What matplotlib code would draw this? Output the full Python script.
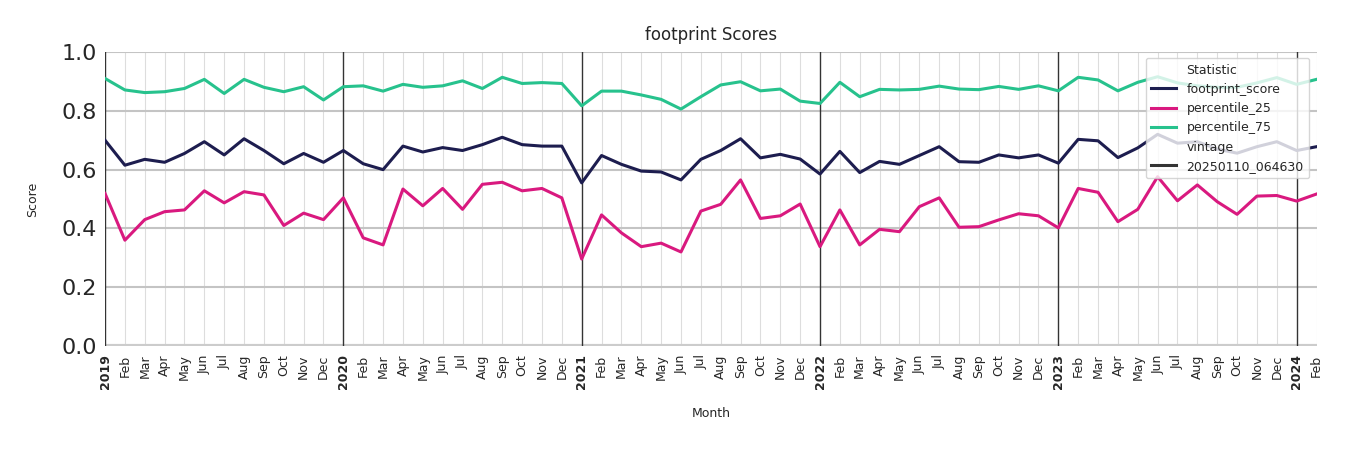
import matplotlib
matplotlib.use("Agg")
import matplotlib.pyplot as plt
from matplotlib.lines import Line2D
import numpy as np

months = ["Jan", "Feb", "Mar", "Apr", "May", "Jun", "Jul", "Aug", "Sep", "Oct", "Nov", "Dec"]
years = [2019, 2020, 2021, 2022, 2023, 2024]

footprint_score = [
    0.70, 0.615, 0.635, 0.625, 0.655, 0.695, 0.65, 0.705, 0.665, 0.62, 0.655, 0.625,
    0.665, 0.62, 0.60, 0.68, 0.66, 0.675, 0.665, 0.685, 0.71, 0.685, 0.68, 0.68,
    0.555, 0.648, 0.618, 0.595, 0.592, 0.565, 0.635, 0.665, 0.705, 0.64, 0.652, 0.636,
    0.585, 0.662, 0.59, 0.628, 0.618, 0.648, 0.678, 0.627, 0.625, 0.65, 0.64, 0.65,
    0.622, 0.703, 0.698, 0.641, 0.674, 0.72, 0.69, 0.695, 0.67, 0.656, 0.678, 0.695,
    0.665, 0.678,
]
percentile_25 = [
    0.519, 0.36, 0.43, 0.457, 0.463, 0.528, 0.487, 0.525, 0.514, 0.41, 0.452, 0.43,
    0.504, 0.368, 0.344, 0.534, 0.477, 0.536, 0.465, 0.55, 0.557, 0.528, 0.536, 0.504,
    0.296, 0.446, 0.385, 0.338, 0.35, 0.32, 0.459, 0.482, 0.565, 0.434, 0.443, 0.483,
    0.338, 0.463, 0.344, 0.397, 0.389, 0.474, 0.504, 0.404, 0.406, 0.429, 0.45, 0.443,
    0.402, 0.536, 0.523, 0.423, 0.465, 0.576, 0.494, 0.548, 0.491, 0.448, 0.51, 0.512,
    0.493, 0.517,
]
percentile_75 = [
    0.91, 0.871, 0.862, 0.865, 0.876, 0.907, 0.859, 0.907, 0.88, 0.865, 0.882, 0.837,
    0.882, 0.885, 0.867, 0.89, 0.88, 0.885, 0.902, 0.876, 0.914, 0.893, 0.896, 0.893,
    0.817, 0.867, 0.867, 0.854, 0.839, 0.806, 0.848, 0.888, 0.899, 0.868, 0.874, 0.833,
    0.825, 0.897, 0.848, 0.873, 0.871, 0.873, 0.884, 0.874, 0.872, 0.883, 0.873, 0.885,
    0.868, 0.914, 0.905, 0.868, 0.897, 0.916, 0.895, 0.885, 0.88, 0.88, 0.895, 0.913,
    0.89, 0.907,
]

n = len(footprint_score)
x = np.arange(n)
labels = []
for i in range(n):
    m = i % 12
    labels.append(str(years[i // 12]) if m == 0 else months[m])

colors = {"footprint_score": "#1d1d4f", "percentile_25": "#d9197f", "percentile_75": "#27c28d"}

fig = plt.figure(figsize=(13.5, 4.5), dpi=100)
ax = fig.add_axes([0.0778, 0.231, 0.8974, 0.6534])

# month grid
for xi in x:
    if xi % 12 == 0:
        ax.axvline(xi, color="#333333", lw=1.0, zorder=1)
    else:
        ax.axvline(xi, color="#dddddd", lw=0.8, zorder=0)
for yv in [0.2, 0.4, 0.6, 0.8, 1.0]:
    ax.axhline(yv, color="#c4c4c4", lw=1.5, zorder=0)
ax.axhline(0.0, color="#cccccc", lw=3, zorder=0)

ax.plot(x, footprint_score, color=colors["footprint_score"], lw=2.2, zorder=3)
ax.plot(x, percentile_25, color=colors["percentile_25"], lw=2.2, zorder=3)
ax.plot(x, percentile_75, color=colors["percentile_75"], lw=2.2, zorder=3)

ax.set_xlim(0, n - 1)
ax.set_ylim(0, 1.0)
for s in ax.spines.values():
    s.set_visible(False)
ax.set_xticks(x)
ax.set_xticklabels(labels, rotation=90, fontsize=9, color="#262626")
for i, t in enumerate(ax.get_xticklabels()):
    if i % 12 == 0:
        t.set_fontweight("bold")
ax.set_yticks([0.0, 0.2, 0.4, 0.6, 0.8, 1.0])
ax.set_yticklabels(["0.0", "0.2", "0.4", "0.6", "0.8", "1.0"], fontsize=16, color="#262626")
ax.tick_params(length=0, pad=6)
ax.set_xlabel("Month", fontsize=9, color="#262626", labelpad=13)
ax.set_ylabel("Score", fontsize=9, color="#262626", labelpad=16)
ax.set_title("footprint Scores", fontsize=12, color="#262626", pad=9)

handles = [
    Line2D([], [], color="none"),
    Line2D([], [], color=colors["footprint_score"], lw=2.2),
    Line2D([], [], color=colors["percentile_25"], lw=2.2),
    Line2D([], [], color=colors["percentile_75"], lw=2.2),
    Line2D([], [], color="none"),
    Line2D([], [], color="#333333", lw=2.2),
]
names = ["Statistic", "footprint_score", "percentile_25", "percentile_75", "vintage", "20250110_064630"]
leg = ax.legend(handles, names, loc="upper right", bbox_to_anchor=(0.994, 0.98), borderaxespad=0,
                fontsize=9, framealpha=0.8, edgecolor="#cccccc", handlelength=2.0,
                labelspacing=0.5, borderpad=0.45)
leg.set_zorder(5)
for t in leg.get_texts():
    t.set_color("#262626")

fig.savefig("out.png", dpi=100)
